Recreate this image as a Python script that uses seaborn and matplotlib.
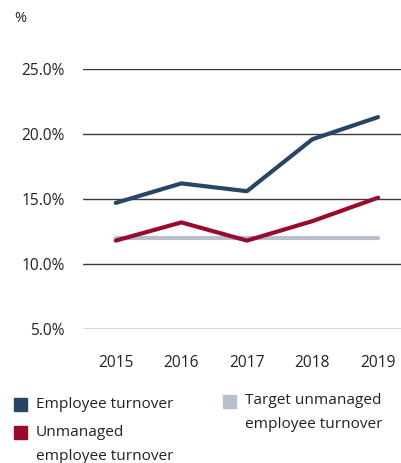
import pandas as pd
import seaborn as sns
import matplotlib.pyplot as plt
from matplotlib.patches import Rectangle

# chart values
years = [2015, 2016, 2017, 2018, 2019]
employee_turnover = [14.7, 16.2, 15.6, 19.6, 21.3]
unmanaged_turnover = [11.8, 13.2, 11.8, 13.3, 15.1]
target_unmanaged = [12.0, 12.0, 12.0, 12.0, 12.0]
y_ticks = [5, 10, 15, 20, 25]

series_names = ["Target unmanaged employee turnover", "Unmanaged employee turnover", "Employee turnover"]
series_values = [target_unmanaged, unmanaged_turnover, employee_turnover]

rows = []
for name, vals in zip(series_names, series_values):
    for yr, v in zip(years, vals):
        rows.append({"year": yr, "value": v, "series": name})
df = pd.DataFrame(rows)

my_pal = {"Employee turnover": "#264662",
          "Unmanaged employee turnover": "#9a0a2c",
          "Target unmanaged employee turnover": "#b9bfcc"}

sns.set_style("white")
plt.rcParams['font.family'] = ['Open Sans', 'DejaVu Sans']

fig = plt.figure(figsize=(4.01, 4.63), dpi=100)
W, H = 401, 463
# axes spans px x 83..401, y 69..329
ax = fig.add_axes([83 / W, 1 - 329 / H, (401 - 83) / W, (329 - 69) / H])

for y in y_ticks:
    ax.axhline(y, color="#3a3a3a", lw=1.0, zorder=0)

sns.lineplot(data=df, x="year", y="value", hue="series", palette=my_pal,
             hue_order=series_names, linewidth=3.0, ax=ax, legend=False,
             solid_capstyle="round")

ax.set_xlim(2014.5, 2019.35)
ax.set_ylim(5, 25)
ax.set_xticks(years)
ax.set_xticklabels([str(y) for y in years])
ax.set_yticks(y_ticks)
ax.set_yticklabels([f"{y:.1f}%" for y in y_ticks])
ax.tick_params(axis="both", length=0, labelsize=11.2, colors="#222222")
ax.tick_params(axis="y", pad=13)
ax.tick_params(axis="x", pad=19)
for s in ax.spines.values():
    s.set_visible(False)
ax.set_xlabel("")
ax.set_ylabel("")
ax.patch.set_alpha(0)

fig.text(14 / W, 1 - 18 / H, "%", fontsize=10.5, color="#222222", va="center", ha="left")

# legend built by hand to match the reference layout
legend_items = [
    ("Employee turnover", my_pal["Employee turnover"], 14, 398, [(36, 405)], ["Employee turnover"]),
    ("Unmanaged", my_pal["Unmanaged employee turnover"], 14, 426, [(36, 432), (36, 456)],
     ["Unmanaged", "employee turnover"]),
    ("Target", my_pal["Target unmanaged employee turnover"], 223, 395, [(245, 401), (245, 425)],
     ["Target unmanaged", "employee turnover"]),
]
for _, color, sx, sy, pos, texts in legend_items:
    fig.add_artist(Rectangle((sx / W, 1 - (sy + 13) / H), 13 / W, 13 / H,
                             transform=fig.transFigure, color=color))
    for (tx, ty), t in zip(pos, texts):
        fig.text(tx / W, 1 - ty / H, t, fontsize=11.1, color="#222222", va="center", ha="left")

plt.savefig("out.png", dpi=100)
